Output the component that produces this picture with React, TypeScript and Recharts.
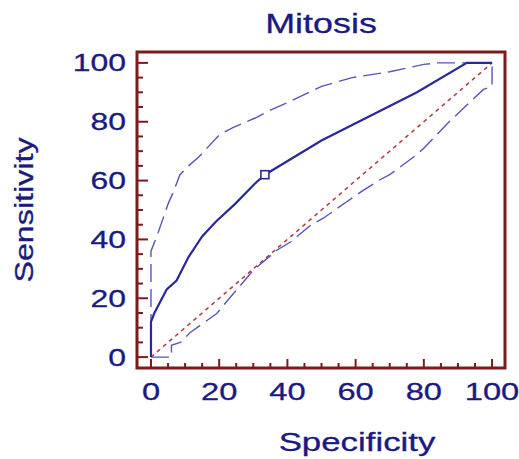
import React from 'react';
import { LineChart, Line, XAxis, YAxis, Scatter, ReferenceArea, Customized } from 'recharts';

// ---- data ----
const axisTicks = [0, 5, 10, 15, 20, 25, 30, 35, 40, 45, 50, 55, 60, 65, 70, 75, 80, 85, 90, 95, 100];

const rocSpec = [0, 0, 1, 4.6, 7.5, 11, 15, 19, 24.6, 30.5, 33.4, 50, 78, 92.6, 100];
const rocSens = [0, 12, 15, 23, 26, 34, 41, 46, 52, 59, 62, 73.6, 90, 100, 100];

const upperSpec = [0, 0, 2, 5, 6.5, 8.5, 11, 14, 20, 24, 31, 34, 41, 50, 59, 70, 80, 84, 100];
const upperSens = [0, 36, 42, 52, 56, 62, 65, 68, 75.5, 78, 81.5, 83.4, 87, 92, 95, 97, 99.5, 100, 100];

const lowerSpec = [0, 6, 6, 9, 11.4, 19.3, 21.7, 28, 30, 37, 41, 47, 50.5, 57.4, 62, 67, 70, 77, 80, 87, 97.5, 100, 100];
const lowerSens = [0, 0, 4, 5.2, 8.3, 14.8, 18.2, 26.8, 29.6, 36.4, 39.2, 45, 47.2, 52.8, 56.5, 60.2, 62, 68, 71, 79.5, 91, 92, 100];

const diagSpec = [0, 100];
const diagSens = [0, 100];

const cutoffSpec = [33.4];
const cutoffSens = [62];

const titleText = 'Mitosis';
const xTitle = 'Specificity';
const yTitle = 'Sensitivity';

// ---- build ----
const zip = (xs: number[], ys: number[]) => xs.map((x, i) => ({ x, y: ys[i] }));
const rocData = zip(rocSpec, rocSens);
const upperData = zip(upperSpec, upperSens);
const lowerData = zip(lowerSpec, lowerSens);
const diagData = zip(diagSpec, diagSens);
const cutoffData = zip(cutoffSpec, cutoffSens);

const MAROON = '#7d1a1a';
const NAVY = '#1a1a80';
const FONT = '"Liberation Sans", Arial, sans-serif';

const XTick = (props: any) => {
  const { x, y, payload } = props;
  const major = payload.value % 20 === 0;
  return (
    <g>
      <line x1={x} x2={x} y1={y} y2={y - (major ? 9 : 5)} stroke={MAROON} strokeWidth={2} />
      {major && (
        <text transform={`translate(${x},${y + 32}) scale(1.36,1)`} textAnchor="middle" fontSize={24} fontFamily={FONT} fill={NAVY} stroke={NAVY} strokeWidth={0.3}>
          {payload.value}
        </text>
      )}
    </g>
  );
};

const YTick = (props: any) => {
  const { x, y, payload } = props;
  const major = payload.value % 20 === 0;
  return (
    <g>
      <line x1={x} x2={x + (major ? 11 : 6)} y1={y} y2={y} stroke={MAROON} strokeWidth={2} />
      {major && (
        <text transform={`translate(${x - 11},${y + 8.6}) scale(1.33,1)`} textAnchor="end" fontSize={24} fontFamily={FONT} fill={NAVY} stroke={NAVY} strokeWidth={0.3}>
          {payload.value}
        </text>
      )}
    </g>
  );
};

const Titles = () => (
  <g fontFamily={FONT} fill={NAVY} stroke={NAVY} strokeWidth={0.3}>
    <text transform="translate(321,33) scale(1.33,1)" textAnchor="middle" fontSize={27}>{titleText}</text>
    <text transform="translate(357,451) scale(1.34,1)" textAnchor="middle" fontSize={26}>{xTitle}</text>
    <text transform="translate(33,210) rotate(-90) scale(1.29,1)" textAnchor="middle" fontSize={25}>{yTitle}</text>
  </g>
);

const SquareMarker = (props: any) => {
  const { cx, cy } = props;
  return <rect x={cx - 4} y={cy - 4} width={8} height={8} fill="#ffffff" stroke="#2a2a96" strokeWidth={1.6} />;
};

export default function App() {
  return (
    <div style={{ position: 'absolute', left: 0, top: 0, width: 519, height: 459, background: '#fff' }}>
      <LineChart width={519} height={459} margin={{ top: 52, right: 14, bottom: 11, left: 67 }}>
        <XAxis
          type="number"
          dataKey="x"
          domain={[-4.1, 103.8]}
          allowDataOverflow
          ticks={axisTicks}
          interval={0}
          tickSize={0}
          tickMargin={0}
          axisLine={false}
          tickLine={false}
          tick={<XTick />}
          height={80}
        />
        <YAxis
          type="number"
          dataKey="y"
          domain={[-3.7, 103.7]}
          allowDataOverflow
          ticks={axisTicks}
          interval={0}
          tickSize={0}
          tickMargin={0}
          axisLine={false}
          tickLine={false}
          tick={<YTick />}
          width={70}
        />
        <Line data={diagData} dataKey="y" type="linear" stroke="#b03a3a" strokeWidth={1.5} strokeDasharray="4 4" dot={false} isAnimationActive={false} />
        <Line data={upperData} dataKey="y" type="linear" stroke="#5555bb" strokeWidth={1.4} strokeDasharray="18 7" dot={false} isAnimationActive={false} />
        <Line data={lowerData} dataKey="y" type="linear" stroke="#5555bb" strokeWidth={1.4} strokeDasharray="18 7" dot={false} isAnimationActive={false} />
        <Line data={rocData} dataKey="y" type="linear" stroke="#2a2a96" strokeWidth={2.2} dot={false} isAnimationActive={false} />
        <Scatter data={cutoffData} dataKey="y" shape={<SquareMarker />} isAnimationActive={false} />
        <ReferenceArea x1={-4.1} x2={103.8} y1={-3.7} y2={103.7} fill="none" stroke={MAROON} strokeWidth={3} ifOverflow="visible" />
        <Customized component={Titles} />
      </LineChart>
    </div>
  );
}
